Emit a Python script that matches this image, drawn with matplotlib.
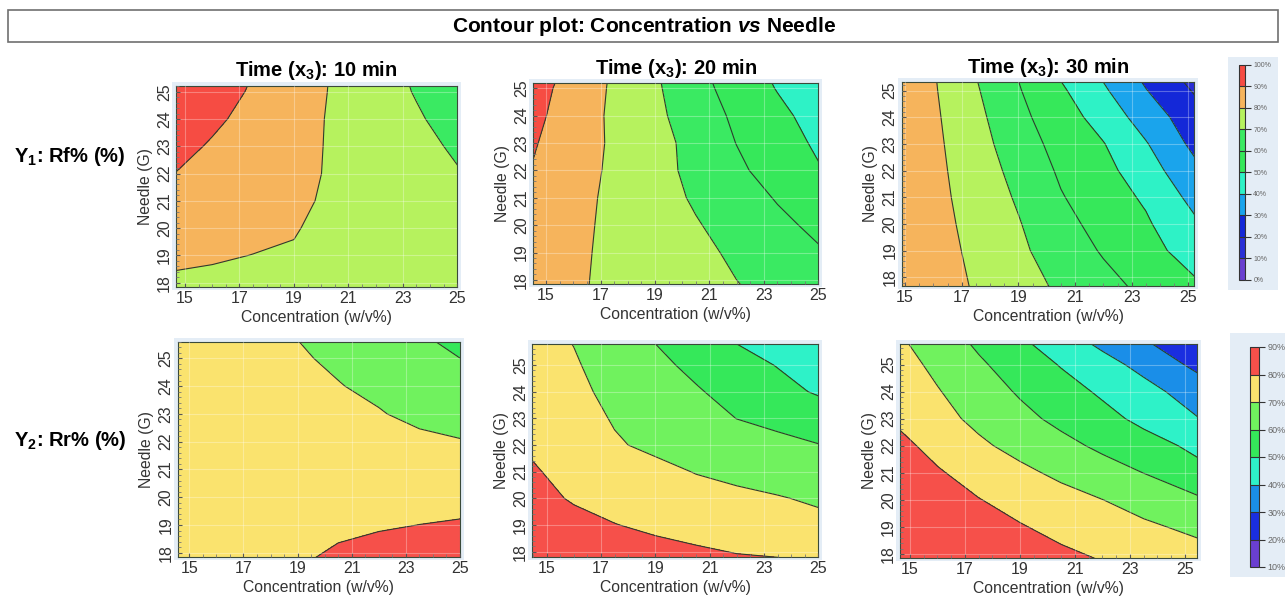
import numpy as np
import matplotlib
matplotlib.use('Agg')
import matplotlib.pyplot as plt
from matplotlib.patches import Rectangle
from matplotlib.ticker import MultipleLocator

plt.rcParams['font.family'] = ['Liberation Sans', 'DejaVu Sans']
plt.rcParams['mathtext.fontset'] = 'custom'
plt.rcParams['mathtext.rm'] = 'Liberation Sans'
plt.rcParams['mathtext.bf'] = 'Liberation Sans:bold'
plt.rcParams['mathtext.it'] = 'Liberation Sans:italic'
plt.rcParams['mathtext.bfit'] = 'Liberation Sans:italic:bold'
plt.rcParams['mathtext.default'] = 'bf'

concentration = [14.4, 16, 17.5, 19, 20.5, 22, 23.5, 25.5]
needle = [17.6, 19, 20, 21, 22, 23, 24, 25, 26]
times = ['10', '20', '30']

# Y1: Rf% (%), one row per needle value
rf_10min = [[78, 77.5, 77, 76.5, 76, 75.5, 75, 74],
            [81.5, 80.8, 79.9, 79.45, 78, 77, 76, 74.5],
            [84, 83, 81.8, 80.4, 78.1, 77, 75.5, 73.5],
            [87, 85.5, 84, 81.5, 78.6, 77.3, 75.5, 71.8],
            [90.3, 88, 85.5, 82.5, 78.8, 77, 74.5, 69.3],
            [93, 89.2, 86, 83, 78.8, 76.3, 73, 67],
            [96, 91.5, 87.5, 83.5, 78.8, 75.5, 71.2, 64],
            [99, 94, 89, 84.5, 79, 75, 69.3, 61],
            [100, 96.5, 90.5, 85.5, 79.2, 74, 68, 60.5]]
rf_20min = [[86, 81.5, 77.5, 75, 72.8, 70.6, 68, 63],
            [86.5, 81.7, 78, 75, 72.2, 68.5, 64.5, 59.6],
            [87, 82, 78.2, 74.5, 70.7, 66.3, 62.2, 56.5],
            [88, 82.5, 78.3, 74, 68.8, 64.5, 59.3, 52.5],
            [90, 83.5, 78.5, 73.2, 67.5, 62, 55.5, 49],
            [91.2, 85, 78.5, 73, 67.2, 59.8, 54.5, 46.5],
            [92.5, 86, 78, 72.2, 65, 58.3, 52.5, 44],
            [94, 86.5, 78.5, 71.5, 63, 56.5, 49.5, 42],
            [95.5, 88.5, 79, 70.5, 61.5, 54.5, 47, 41]]
rf_30min = [[89, 84.5, 79.2, 73.9, 68.6, 63.2, 57.9, 50.7],
            [89.5, 84.0, 77.9, 71.8, 65.4, 59.1, 53.6, 44.1],
            [89.5, 83.4, 77.0, 70.6, 63.0, 56.7, 51.3, 39.7],
            [89.5, 82.9, 76.0, 68.9, 60.6, 54.8, 48.6, 35.2],
            [89.5, 82.5, 75.0, 67.0, 58.65, 52.9, 44.6, 30.4],
            [89, 82.1, 73.85, 64.7, 56.7, 50.4, 40.7, 25.4],
            [88.5, 81.6, 72.6, 62.5, 54.5, 46.1, 35.5, 22.5],
            [88, 81.0, 71.0, 60.7, 51.5, 41.4, 30.4, 17.3],
            [87.5, 80.4, 69.3, 58.8, 47.3, 36.9, 25.7, 11.4]]

# Y2: Rr% (%)
rr_10min = [[76, 77, 78, 79.5, 82, 83.5, 85, 87],
            [75.5, 76, 76.6, 77.3, 78.3, 79.3, 80.05, 81.0],
            [75.5, 75.7, 76, 76.3, 76.8, 77.2, 77.5, 77.5],
            [75.3, 75.4, 75.5, 75.6, 75.8, 75.6, 75, 74],
            [75.2, 75.0, 74.8, 74.5, 73.8, 73, 72, 70.0],
            [75, 74.5, 73.8, 72.8, 71.5, 70.6, 67.7, 65.6],
            [74.8, 74, 73, 71.6, 70.4, 68, 65.5, 62.5],
            [74.5, 73.5, 72, 71, 68.5, 65.5, 62.5, 59.2],
            [74, 73, 71.3, 69.5, 67, 63.5, 60, 56]]
rr_20min = [[88, 86.5, 85, 83.5, 82.3, 81.2, 80.85, 79.4],
            [84.5, 82.2, 80.2, 78.6, 77.3, 76, 74.5, 72.2],
            [82.5, 79.3, 77.3, 75.5, 73.8, 72.3, 70.7, 67.7],
            [80.8, 77.8, 75.3, 72.6, 69.6, 67.4, 65, 62],
            [79.2, 75.8, 71.0, 68.0, 66, 64.2, 62.5, 59.5],
            [77.5, 74, 69.24, 66, 63.5, 59.9, 57.5, 54.5],
            [76, 72, 67.8, 64.5, 60.8, 57, 53.2, 47.5],
            [74.5, 70.8, 66.5, 62, 58, 53.8, 49.6, 44],
            [73, 69.6, 65.2, 59.5, 54, 49, 45.5, 41.5]]
rr_30min = [[88.5, 87, 85.5, 84, 82.8, 80.5, 78, 75],
            [87.5, 85.5, 83.6, 80.6, 77.6, 74.6, 71.6, 67.8],
            [87, 83.8, 80.3, 76.9, 73.4, 70.1, 66.3, 61.3],
            [85.6, 80.9, 76.5, 72.2, 68.0, 63.9, 59.9, 52.6],
            [83.1, 77.2, 71.7, 67.0, 62.65, 58.2, 53.7, 47.8],
            [79.24, 73.2, 67.7, 62.6, 57.7, 52.9, 47.7, 40.2],
            [76.9, 70.6, 64.7, 59.0, 53.8, 48.6, 43.3, 35.1],
            [74.5, 67.8, 61.4, 55.4, 49.4, 43.5, 37.1, 27.4],
            [71.8, 64.5, 57.7, 50.7, 43.4, 36.4, 29.8, 20.9]]

rf_levels = [0, 10, 20, 30, 40, 50, 60, 70, 80, 90, 100]
rf_colors = ['#6a3fd0', '#2a2fd6', '#1428d8', '#1aa4ec', '#2ef2c6',
             '#36e85a', '#3aea62', '#b6f25e', '#f6b45c', '#f64c43']
rr_levels = [10, 20, 30, 40, 50, 60, 70, 80, 90]
rr_colors = ['#6a3fd0', '#1a2ee0', '#1a8ee8', '#2ef2c8',
             '#35e85a', '#70f25e', '#fae36e', '#f6504a']

W, H = 1285, 602
fig = plt.figure(figsize=(W / 100, H / 100), dpi=100)


def px_axes(left, top, right, bottom, **kw):
    return fig.add_axes([left / W, 1 - bottom / H, (right - left) / W, (bottom - top) / H], **kw)


def px_rect(left, top, right, bottom, **kw):
    fig.patches.append(Rectangle((left / W, 1 - bottom / H), (right - left) / W, (bottom - top) / H,
                                 transform=fig.transFigure, figure=fig, **kw))


# title box
px_rect(8, 10, 1278, 42, facecolor='white', edgecolor='#707070', linewidth=1.2, zorder=-5)
fig.text(644 / W, 1 - 26 / H, r'Contour plot: Concentration $\mathbfit{vs}$ Needle',
         ha='center', va='center', fontsize=15, fontweight='bold')

rf_boxes = [(176, 85.7, 457.3, 287), (533.3, 83.3, 818.3, 284), (901.7, 82.3, 1194.3, 285.5)]
rr_boxes = [(177.7, 341.7, 460, 556.7), (532.3, 344.3, 818.3, 556.7), (900, 344, 1196.7, 558)]
rf_lims = [((14.67, 25.0), (17.84, 25.22)), ((14.53, 25.0), (17.85, 25.18)), ((14.88, 25.21), (17.69, 25.31))]
rr_lims = [((14.57, 25.0), (17.86, 25.6)), ((14.47, 25.0), (17.81, 25.78)), ((14.64, 25.43), (17.85, 25.76))]

X, Y = np.meshgrid(concentration, needle)


def panel(box, lims, z, levels, colors, title=None):
    l, t, r, b = box
    px_rect(l - 4, t - 4, r + 4, b + 3, facecolor='#e4edf6', edgecolor='none', zorder=-5)
    ax = px_axes(l, t, r, b)
    cf = ax.contourf(X, Y, np.array(z), levels=levels, colors=colors)
    ax.contour(X, Y, np.array(z), levels=levels, colors='#2c3d2c', linewidths=0.8)
    ax.set_xlim(*lims[0])
    ax.set_ylim(*lims[1])
    ax.set_xticks([15, 17, 19, 21, 23, 25])
    ax.set_yticks([18, 19, 20, 21, 22, 23, 24, 25])
    ax.xaxis.set_minor_locator(MultipleLocator(0.5))
    ax.yaxis.set_minor_locator(MultipleLocator(0.2))
    ax.grid(True, color='white', alpha=0.3, linewidth=0.8)
    ax.set_axisbelow(False)
    ax.tick_params(which='major', direction='in', length=3, color='#555555',
                   labelsize=11.5, labelcolor='#333333', pad=3)
    ax.tick_params(which='minor', direction='in', length=2, color='#777777')
    ax.tick_params(axis='y', labelrotation=90)
    for lab in ax.get_yticklabels():
        lab.set_va('center')
    for s in ax.spines.values():
        s.set_color('#3a4a3a')
        s.set_linewidth(0.8)
    ax.set_xlabel('Concentration (w/v%)', fontsize=11.3, color='#333333', labelpad=3)
    ax.set_ylabel('Needle (G)', fontsize=11.3, color='#333333', labelpad=3)
    if title:
        ax.set_title(title, fontsize=14.5, fontweight='bold', pad=7)
    return cf


rf_data = [rf_10min, rf_20min, rf_30min]
rr_data = [rr_10min, rr_20min, rr_30min]

for i in range(3):
    cf_rf = panel(rf_boxes[i], rf_lims[i], rf_data[i], rf_levels, rf_colors,
                  title='Time (x$_3$): %s min' % times[i])
    cf_rr = panel(rr_boxes[i], rr_lims[i], rr_data[i], rr_levels, rr_colors)

fig.text(14 / W, 1 - 157 / H, 'Y$_1$: Rf% (%)', fontsize=14.5, fontweight='bold', va='center')
fig.text(14 / W, 1 - 440 / H, 'Y$_2$: Rr% (%)', fontsize=14.5, fontweight='bold', va='center')

# colour bars
for (bg, bar, levels, cf, fs) in [((1228, 57, 1278, 290), (1239, 65, 1245, 280), rf_levels, cf_rf, 5),
                                  ((1230, 333, 1285, 577), (1250, 347, 1259, 567), rr_levels, cf_rr, 6.5)]:
    px_rect(*bg, facecolor='#e4edf6', edgecolor='none', zorder=-5)
    cax = px_axes(*bar)
    cb = fig.colorbar(cf, cax=cax, ticks=levels, drawedges=True)
    cb.ax.set_yticklabels(['%d%%' % v for v in levels])
    cb.ax.tick_params(labelsize=fs, labelcolor='#666666', length=4, width=0.8, color='#333333', pad=2)
    cb.outline.set_edgecolor('#333333')
    cb.outline.set_linewidth(0.8)
    cb.dividers.set_color('#333333')
    cb.dividers.set_linewidth(0.8)

fig.savefig('out.png', dpi=100)
